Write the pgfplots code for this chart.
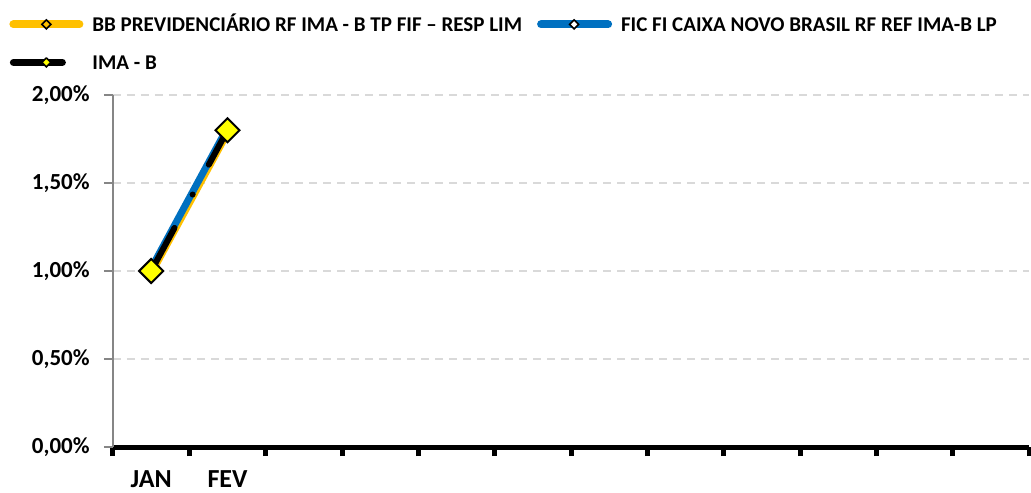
\documentclass[border=0pt]{standalone}
\usepackage{fontspec}
\setmainfont{Carlito}
\usepackage{pgfplots}
\pgfplotsset{compat=1.18}
\definecolor{ouro}{RGB}{255,192,0}
\definecolor{azul}{RGB}{0,112,192}
\definecolor{amarelo}{RGB}{255,255,0}
\definecolor{grade}{RGB}{217,217,217}
\definecolor{eixo}{RGB}{134,134,134}
\begin{document}
\begin{tikzpicture}
\begin{axis}[
  scale only axis, width=458pt, height=176pt,
  xmin=-0.5, xmax=11.5, ymin=0, ymax=2,
  axis x line*=bottom, axis y line*=left,
  x axis line style={-, black, line width=2.5pt},
  y axis line style={-, eixo, line width=0.75pt},
  xtick={-0.5,0.5,...,11.5}, xticklabels={},
  extra x ticks={0,1}, extra x tick labels={JAN,FEV},
  extra x tick style={grid=none, major tick length=0pt},
  xtick style={black, line width=2.5pt},
  ytick={0,0.5,...,2}, ytick style={eixo, line width=0.75pt},
  tick align=outside, xtick pos=bottom, ytick pos=left, major tick length=4.5pt,
  ymajorgrids, grid style={grade, line width=1pt, dash pattern=on 4.2pt off 2.8pt},
  /pgf/number format/assume math mode=true,
  yticklabel={\pgfmathprintnumber[fixed,fixed zerofill,precision=2,use comma]{\tick}\%},
  yticklabel style={font=\fontsize{11.5}{12}\selectfont\bfseries, inner xsep=0pt, xshift=-7pt},
  xticklabel style={font=\fontsize{13}{13}\selectfont\bfseries, yshift=-10.5pt, inner ysep=1pt},
  legend columns=2, legend cell align=left,
  legend style={at={(0,1)}, anchor=north west, xshift=-52pt, yshift=41.1pt,
    draw=none, fill=none, inner sep=0pt, row sep=7.8pt,
    font=\fontsize{10.5}{12}\selectfont\bfseries,
    nodes={inner sep=0pt, text height=9pt, text depth=2.2pt},
    /tikz/every odd column/.append style={column sep=4.5pt},
    /tikz/every even column/.append style={column sep=7.5pt}},
]
% BB Previdenciario
\addplot[ouro, line width=3.5pt, line cap=round, mark=none,
  legend image code/.code={
    \draw[ouro, line width=4pt, line cap=round] (0pt,0pt) -- (33pt,0pt);
    \draw[black, line width=0.8pt] (16.5pt,2.25pt) -- (18.75pt,0pt) -- (16.5pt,-2.25pt) -- (14.25pt,0pt) -- cycle;
  }] coordinates {(0,0.985) (1,1.785)};
\addlegendentry{BB PREVIDENCIÁRIO RF IMA - B TP FIF – RESP LIM}
% Caixa
\addplot[azul, line width=3.5pt, line cap=round, mark=none,
  legend image code/.code={
    \draw[azul, line width=4pt, line cap=round] (0pt,0pt) -- (33.5pt,0pt);
    \draw[black, fill=white, line width=0.8pt] (16.5pt,2.25pt) -- (18.75pt,0pt) -- (16.5pt,-2.25pt) -- (14.25pt,0pt) -- cycle;
  }] coordinates {(0,1.015) (1,1.815)};
\addlegendentry{FIC FI CAIXA NOVO BRASIL RF REF IMA-B LP}
% IMA-B
\addplot[black, line width=3pt, line cap=round,
  dash pattern=on 24.5pt off 19pt on 0pt off 17pt,
  mark=square*, mark size=4.25pt,
  mark options={rotate=45, solid, fill=amarelo, draw=black, line width=1pt},
  legend image code/.code={
    \draw[black, line width=3.5pt, line cap=round] (0pt,0pt) -- (27.75pt,0pt);
    \draw[black, fill=amarelo, line width=0.8pt] (16.5pt,2.25pt) -- (18.75pt,0pt) -- (16.5pt,-2.25pt) -- (14.25pt,0pt) -- cycle;
  }] coordinates {(0,1.00) (1,1.80)};
\addlegendentry{IMA - B}
\end{axis}
\pgfresetboundingbox
\useasboundingbox ([xshift=-56.5pt,yshift=-22.5pt]current axis.south west) rectangle ([xshift=1pt,yshift=47.5pt]current axis.north east);
\end{tikzpicture}
\end{document}
